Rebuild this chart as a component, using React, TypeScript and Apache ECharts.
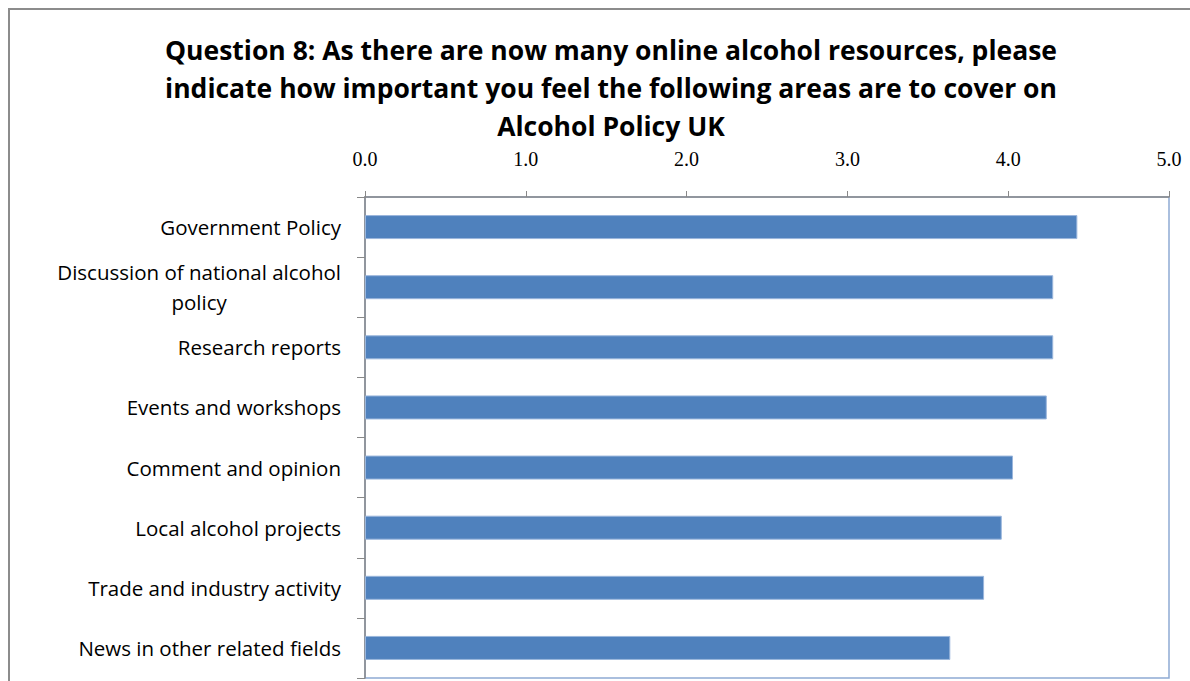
import React, { useEffect, useRef } from "react";
import * as echarts from "echarts";

const categories = [
  "Government Policy",
  "Discussion of national alcohol\npolicy",
  "Research reports",
  "Events and workshops",
  "Comment and opinion",
  "Local alcohol projects",
  "Trade and industry activity",
  "News in other related fields",
];
const values = [4.43, 4.28, 4.28, 4.24, 4.03, 3.96, 3.85, 3.64];
const tickLabels = ["0.0", "1.0", "2.0", "3.0", "4.0", "5.0"];
const titleText =
  "Question 8: As there are now many online alcohol resources, please\nindicate how important you feel the following areas are to cover on\nAlcohol Policy UK";

const FONT = "'Open Sans', Lato, sans-serif";
const TICKFONT = "'Liberation Serif', 'DejaVu Serif', serif";

export default function App() {
  const ref = useRef<HTMLDivElement>(null);
  useEffect(() => {
    document.body.style.margin = "0";
    const chart = echarts.init(ref.current!, undefined, { renderer: "svg" });
    chart.setOption({
      animation: false,
      backgroundColor: "#ffffff",
      title: {
        text: titleText,
        left: 606,
        textAlign: "center",
        top: 26,
        textStyle: {
          fontFamily: FONT,
          fontWeight: "bold",
          fontSize: 26.5,
          lineHeight: 38,
          color: "#000",
        },
      },
      graphic: [
        {
          type: "rect",
          shape: { x: 9, y: 9, width: 1300, height: 800 },
          style: { fill: "none", stroke: "#8c8c8c", lineWidth: 2 },
          silent: true,
          z: -10,
        },
      ],
      grid: {
        left: 365,
        right: 21,
        top: 197,
        bottom: 3,
        show: true,
        borderColor: "#8eaad4",
        borderWidth: 1.5,
        backgroundColor: "transparent",
      },
      xAxis: {
        type: "value",
        position: "top",
        min: 0,
        max: 5,
        interval: 1,
        axisLine: { show: true, lineStyle: { color: "#888", width: 1.5 } },
        axisTick: { show: true, length: 6, lineStyle: { color: "#888" } },
        splitLine: { show: false },
        axisLabel: {
          margin: 28,
          fontFamily: TICKFONT,
          fontSize: 20,
          lineHeight: 20,
          color: "#000",
          formatter: (v: number) => tickLabels[Math.round(v)] ?? "",
        },
      },
      yAxis: {
        type: "category",
        inverse: true,
        data: categories,
        axisLine: { show: true, lineStyle: { color: "#888", width: 1.5 } },
        axisTick: { show: true, length: 8, lineStyle: { color: "#888" } },
        axisLabel: {
          margin: 24,
          fontFamily: FONT,
          fontSize: 20.5,
          color: "#000",
          formatter: (v: string) => {
            const parts = v.split("\n");
            return parts.map((p) => "{c|" + p + "}").join("\n");
          },
          rich: {
            c: {
              align: "center",
              fontFamily: FONT,
              fontSize: 20.5,
              lineHeight: 30,
              color: "#000",
            },
          },
        },
      },
      series: [
        {
          type: "bar",
          data: values,
          barWidth: 24,
          itemStyle: {
            color: "#4f81bd",
            borderColor: "#9ab6dc",
            borderWidth: 1,
          },
        },
      ],
    });
    return () => chart.dispose();
  }, []);
  return (
    <div
      ref={ref}
      style={{ position: "absolute", left: 0, top: 0, width: 1190, height: 681 }}
    />
  );
}
